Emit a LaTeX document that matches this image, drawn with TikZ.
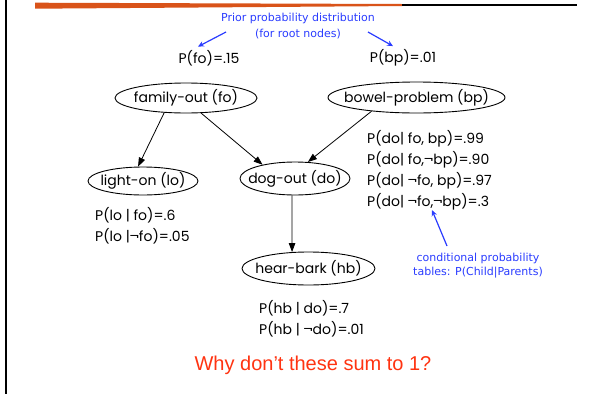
\documentclass[tikz,border=0pt]{standalone}
\usepackage{fontspec}
\setmainfont{Poppins}
\newfontfamily\notefont{DejaVu Sans}
\newfontfamily\alertfont{Liberation Sans}
\usetikzlibrary{shapes.geometric, positioning, arrows.meta}
\definecolor{SlideOrange}{HTML}{D95319}
\definecolor{NoteBlue}{HTML}{2A3CFF}
\definecolor{AlertRed}{HTML}{FF3311}
\newcommand{\nodetext}[1]{\makebox[0pt]{#1}}

\tikzset{
  bnnode/.style={ellipse, draw, line width=0.9pt, inner sep=0pt, font=\fontsize{14}{16}\selectfont},
  bnedge/.style={-{Triangle[length=9pt,width=6.5pt]}, line width=0.8pt},
  cpt/.style={align=left, inner sep=0pt, anchor=west, font=\fontsize{14}{21}\selectfont},
  note/.style={NoteBlue, align=center, inner sep=0pt},
  notearrow/.style={-{Stealth[length=6pt,width=5.5pt]}, NoteBlue, line width=1.2pt}
}

\begin{document}
\begin{tikzpicture}[x=1pt, y=-1pt]
  \useasboundingbox (0,0) rectangle (603,394);

  % Slide frame
  \fill[black] (4.7,0) rectangle (6.7,394);
  \fill[SlideOrange] (35,2.7) -- (402,4) -- (402,6) -- (35,8.7) -- cycle;
  \draw[line width=1.3pt] (402,5) -- (577,5);

  % Network nodes
  \node[bnnode, minimum width=142pt, minimum height=30pt] (fo) at (186,98) {\nodetext{family-out (fo)}};
  \node[bnnode, minimum width=177pt, minimum height=31pt] (bp) at (416.5,97.5) {\nodetext{bowel-problem (bp)}};
  \node[bnnode, minimum width=110pt, minimum height=28pt] (lo) at (143,181) {\nodetext{light-on (lo)}};
  \node[bnnode, minimum width=110pt, minimum height=33pt] (do) at (295,178.5) {\nodetext{dog-out (do)}};
  \node[bnnode, minimum width=133pt, minimum height=33pt] (hb) at (308.5,268.5) {\nodetext{hear-bark (hb)}};

  % Edges
  \draw[bnedge] (fo.214) -- (lo.109);
  \draw[bnedge] (fo.315) -- (do.157);
  \draw[bnedge] (bp.197) -- (do.52);
  \draw[bnedge] (do.260) -- (hb.135);

  % Probabilities
  \node[font=\fontsize{14}{16}\selectfont] (pfo) at (209,58) {P(fo)=.15};
  \node[font=\fontsize{14}{16}\selectfont] (pbp) at (403,58) {P(bp)=.01};
  \node[cpt] (cptlo) at (95,226) {P(lo | fo)=.6\\P(lo |¬fo)=.05};
  \node[cpt] (cptdo) at (367,170) {P(do| fo, bp)=.99\\P(do| fo,¬bp)=.90\\P(do| ¬fo, bp)=.97\\P(do| ¬fo,¬bp)=.3};
  \node[cpt] (cpthb) at (259,319) {P(hb | do)=.7\\P(hb | ¬do)=.01};

  % Annotations
  \node[note, font=\notefont\fontsize{11}{16.5}\selectfont] (prior) at (298,26) {Prior probability distribution\\(for root nodes)};
  \node[note, font=\notefont\fontsize{11}{14}\selectfont] (cond) at (478,266) {conditional probability\\tables: P(Child|Parents)};
  \coordinate (pl) at (226,32);
  \coordinate (pr) at (368,32);
  \coordinate (pc) at (447,246);
  \draw[notearrow] (pl) -- (pfo.north west -| 198,46);
  \draw[notearrow] (pr) -- (pbp.north west -| 393,46);
  \draw[notearrow] (pc) -- (cptdo.south -| 432,219);

  \node[AlertRed, font=\alertfont\fontsize{20}{24}\selectfont] (why) at (313,365) {Why don’t these sum to 1?};
\end{tikzpicture}
\end{document}
